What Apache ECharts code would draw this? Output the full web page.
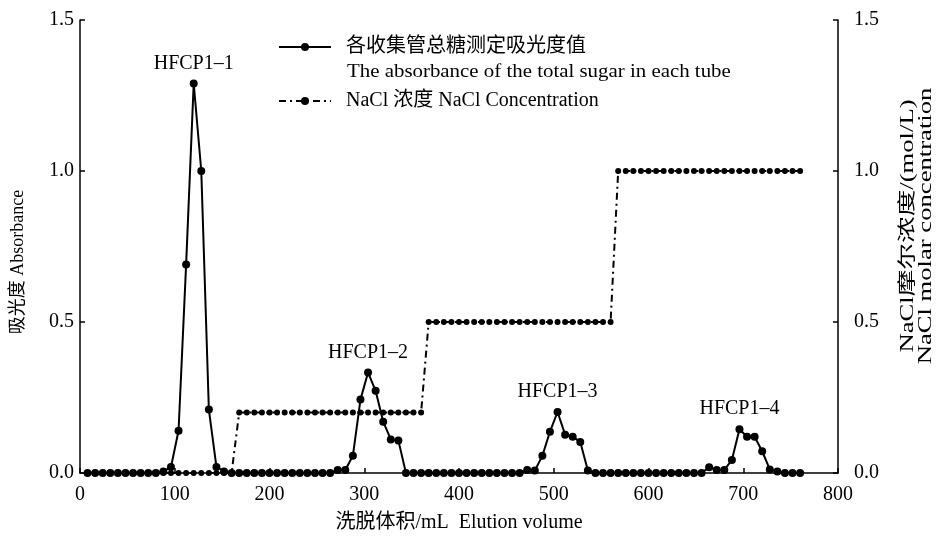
<!DOCTYPE html>
<html>
<head>
<meta charset="utf-8">
<script src="https://cdn.jsdelivr.net/npm/echarts@6/dist/echarts.min.js"></script>
<style>
html,body{margin:0;padding:0;background:#fff;}
#chart{width:945px;height:537px;}
</style>
</head>
<body>
<div id="chart"></div>
<script>
// Elution volume of each tube (mL)
const volumes = [8,16,24,32,40,48,56,64,72,80,88,96,104,112,120,128,136,144,152,160,
  168,176,184,192,200,208,216,224,232,240,248,256,264,272,280,288,296,304,312,320,
  328,336,344,352,360,368,376,384,392,400,408,416,424,432,440,448,456,464,472,480,
  488,496,504,512,520,528,536,544,552,560,568,576,584,592,600,608,616,624,632,640,
  648,656,664,672,680,688,696,704,712,720,728,736,744,752,760];
// Absorbance of total sugar in each tube
const absorbance = [0,0,0,0,0,0,0,0,0,0,0.005,0.02,0.14,0.69,1.29,1.0,0.21,0.02,0.005,0,
  0,0,0,0,0,0,0,0,0,0,0,0,0,0.01,0.01,0.057,0.243,0.333,0.272,0.17,
  0.111,0.108,0,0,0,0,0,0,0,0,0,0,0,0,0,0,0,0,0.01,0.008,
  0.057,0.137,0.202,0.127,0.12,0.103,0.008,0,0,0,0,0,0,0,0,0,0,0,0,0,
  0,0,0.019,0.01,0.01,0.043,0.145,0.12,0.12,0.072,0.012,0.005,0,0,0];
// NaCl concentration (mol/L)
const nacl = [0,0,0,0,0,0,0,0,0,0,0,0,0,0,0,0,0,0,0,0,
  0.2,0.2,0.2,0.2,0.2,0.2,0.2,0.2,0.2,0.2,0.2,0.2,0.2,0.2,0.2,0.2,0.2,0.2,0.2,0.2,
  0.2,0.2,0.2,0.2,0.2,0.5,0.5,0.5,0.5,0.5,0.5,0.5,0.5,0.5,0.5,0.5,0.5,0.5,0.5,0.5,
  0.5,0.5,0.5,0.5,0.5,0.5,0.5,0.5,0.5,0.5,1.0,1.0,1.0,1.0,1.0,1.0,1.0,1.0,1.0,1.0,
  1.0,1.0,1.0,1.0,1.0,1.0,1.0,1.0,1.0,1.0,1.0,1.0,1.0,1.0,1.0];
// Peak labels
const peakNames = ['HFCP1–1','HFCP1–2','HFCP1–3','HFCP1–4'];
const peakVolumes = [120, 304, 504, 696];
const xTicks = [0,100,200,300,400,500,600,700,800];
const yTicks = [0,0.5,1.0,1.5];

const seriesNames = ['各收集管总糖测定吸光度值', 'NaCl 浓度 NaCl Concentration'];
const legendLine2 = 'The absorbance of the total sugar in each tube';
const xName = '洗脱体积/mL  Elution volume';
const yLeftName = '吸光度 Absorbance';
const yRightName = 'NaCl摩尔浓度/(mol/L)\nNaCl molar concentration';

const FONT = "'Liberation Serif','Times New Roman','Noto Sans CJK SC',serif";

const absData = volumes.map((v, i) => [v, absorbance[i]]);
const naclData = volumes.map((v, i) => [v, nacl[i]]);
const markData = peakNames.map((n, k) => {
  const idx = volumes.indexOf(peakVolumes[k]);
  return { name: n, coord: [peakVolumes[k], absorbance[idx]], label: { formatter: n } };
});

function yAxis(pos, margin) {
  return {
    type: 'value', position: pos, min: yTicks[0], max: yTicks[yTicks.length - 1], interval: 0.5,
    axisLine: { show: true, lineStyle: { color: '#000', width: 1.5 } },
    axisTick: { show: true, inside: true, length: 5, lineStyle: { color: '#000', width: 1.5 } },
    axisLabel: { color: '#000', fontSize: 20, fontFamily: FONT, margin: margin, formatter: v => v.toFixed(1) },
    splitLine: { show: false }
  };
}

const chart = echarts.init(document.getElementById('chart'), null, { renderer: 'canvas' });
chart.setOption({
  backgroundColor: '#fff',
  animation: false,
  grid: { left: 80, right: 107, top: 20, bottom: 64, containLabel: false, outerBoundsMode: 'none' },
  legend: {
    orient: 'vertical', left: 278, top: 37, padding: 0, itemWidth: 52, itemHeight: 10, itemGap: 34,
    data: seriesNames,
    textStyle: { color: '#000', fontSize: 20, fontFamily: FONT, padding: [0, 0, 0, 10] }
  },
  xAxis: {
    type: 'value', min: xTicks[0], max: xTicks[xTicks.length - 1], interval: 100,
    axisLine: { show: true, onZero: false, lineStyle: { color: '#000', width: 1.5 } },
    axisTick: { show: true, inside: true, length: 5, lineStyle: { color: '#000', width: 1.5 } },
    axisLabel: { color: '#000', fontSize: 20, fontFamily: FONT, margin: 12 },
    splitLine: { show: false },
    name: xName, nameLocation: 'middle', nameGap: 40,
    nameTextStyle: { color: '#000', fontSize: 20, fontFamily: FONT }
  },
  yAxis: [yAxis('left', 6), yAxis('right', 16)],
  graphic: [
    { type: 'text', x: 18, y: 262, rotation: Math.PI / 2,
      style: { text: yLeftName, fill: '#000', font: '18px ' + FONT, align: 'center', verticalAlign: 'middle', textAlign: 'center', textVerticalAlign: 'middle' } },
    { type: 'text', x: 917, y: 226, rotation: Math.PI / 2, scaleX: 1.48,
      style: { text: yRightName, fill: '#000', font: '18px ' + FONT, lineHeight: 18, align: 'center', verticalAlign: 'middle', textAlign: 'center', textVerticalAlign: 'middle' } },
    { type: 'text', x: 347, y: 72, scaleX: 1.16,
      style: { text: legendLine2, fill: '#000', font: '18px ' + FONT, align: 'left', verticalAlign: 'middle', textAlign: 'left', textVerticalAlign: 'middle' } }
  ],
  series: [
    {
      name: seriesNames[0], type: 'line', yAxisIndex: 0, data: absData,
      symbol: 'circle', symbolSize: 8, showAllSymbol: true, z: 3,
      lineStyle: { color: '#000', width: 2 }, itemStyle: { color: '#000' },
      markPoint: {
        symbol: 'circle', symbolSize: 0, silent: true, data: markData,
        label: { show: true, position: 'top', distance: 10, color: '#000', fontSize: 20, fontFamily: FONT }
      }
    },
    {
      name: seriesNames[1], type: 'line', yAxisIndex: 1, data: naclData,
      symbol: 'circle', symbolSize: 6, showAllSymbol: true, z: 2,
      lineStyle: { color: '#000', width: 2, type: [7, 4, 2, 4] }, itemStyle: { color: '#000' }
    }
  ]
});
</script>
</body>
</html>
